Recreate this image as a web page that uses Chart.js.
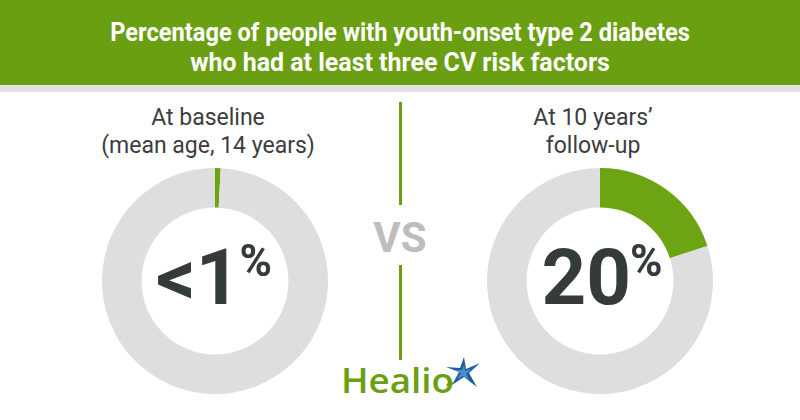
<!DOCTYPE html>
<html>
<head>
<meta charset="utf-8">
<script src="https://cdn.jsdelivr.net/npm/chart.js@4.4.1/dist/chart.umd.min.js"></script>
<style>
  html,body{margin:0;padding:0;background:#fff;}
  #wrap{position:relative;width:800px;height:420px;overflow:hidden;font-family:Roboto,"Noto Sans",sans-serif;}
  #head{position:absolute;left:0;top:0;width:800px;height:85px;background:#6a9f12;}
  #strip{position:absolute;left:0;top:85px;width:800px;height:7px;background:#e2e2e2;}
  .tline{position:absolute;left:400px;white-space:nowrap;color:#fff;font-weight:bold;font-size:25px;line-height:1;transform-origin:center top;}
  .sub{position:absolute;width:300px;text-align:center;color:#3d3d3d;font-size:23px;line-height:28px;}
  canvas{position:absolute;}
  .big{position:absolute;white-space:nowrap;color:#353b3b;font-weight:bold;font-size:78px;line-height:1;transform:translateX(-50%);}
  .big span{font-size:44px;line-height:1;vertical-align:top;margin-left:-1px;}
  .vline{position:absolute;left:399px;width:3px;background:#6a9f12;}
  #vs{position:absolute;left:400px;top:217px;transform:translateX(-50%);color:#bdbdbd;font-weight:bold;font-size:42px;line-height:1;}
  #logo{position:absolute;left:341px;top:362px;color:#6a9f12;font-size:35px;font-weight:600;line-height:1;font-family:"Open Sans",Roboto,sans-serif;transform:scaleX(1.05);transform-origin:left top;}
</style>
</head>
<body>
<div id="wrap">
  <div id="head"></div>
  <div id="strip"></div>
  <div class="tline" id="t1" style="top:20px">Percentage of people with youth-onset type 2 diabetes</div>
  <div class="tline" id="t2" style="top:50px">who had at least three CV risk factors</div>

  <div class="sub" style="left:58px;top:104px">At baseline<br>(mean age, 14 years)</div>
  <div class="sub" style="left:443px;top:104px">At 10 years’<br>follow-up</div>

  <canvas id="c0" width="226" height="226" style="left:102px;top:168px"></canvas>
  <canvas id="c1" width="226" height="226" style="left:487px;top:168px"></canvas>

  <div class="big" id="b0" style="left:214px;top:239px"></div>
  <div class="big" id="b1" style="left:602px;top:239px"></div>

  <div class="vline" style="top:102px;height:103px"></div>
  <div id="vs">VS</div>
  <div class="vline" style="top:265px;height:95px"></div>

  <div id="logo">Healio</div>
  <svg style="position:absolute;left:444px;top:355px" width="38" height="36" viewBox="0 0 38 36">
    <polygon points="20,2 22,14 36,8 25,18 33,32 20,22 8,30 15,17 2,12 16,13" fill="#1f5f9e"/>
    <polygon points="20,10 21,16 27,14 22,19 25,25 19,21 13,24 17,18 12,15 18,15" fill="#4b8fd0"/>
    <polygon points="2,30 6,26 10,28 6,32" fill="#6a9f12"/>
  </svg>
</div>
<script>
const panels = ['At baseline', 'At 10 years’ follow-up'];
const segments = ['At least three CV risk factors', 'Fewer than three'];
const withRisk = [0.8, 20];
const withoutRisk = [99.2, 80];
const centerText = ['<1', '20'];

const green = '#6ca413';
const grey = '#dedede';

// squeeze title lines to the condensed width of the original
[['t1', 580], ['t2', 420]].forEach(([id, w]) => {
  const el = document.getElementById(id);
  const s = w / el.offsetWidth;
  el.style.transform = 'translateX(-50%) scaleX(' + s + ')';
});

panels.forEach((p, i) => {
  new Chart(document.getElementById('c' + i).getContext('2d'), {
    type: 'doughnut',
    data: {
      labels: segments,
      datasets: [{
        label: p,
        data: [withRisk[i], withoutRisk[i]],
        backgroundColor: [green, grey],
        borderWidth: 0,
        hoverOffset: 0
      }]
    },
    options: {
      responsive: false,
      animation: false,
      cutout: '65%',
      rotation: 0,
      layout: { padding: 0 },
      plugins: { legend: { display: false }, tooltip: { enabled: false } }
    }
  });
  const b = document.getElementById('b' + i);
  b.textContent = centerText[i];
  const pct = document.createElement('span');
  pct.textContent = '%';
  b.appendChild(pct);
});
</script>
</body>
</html>
